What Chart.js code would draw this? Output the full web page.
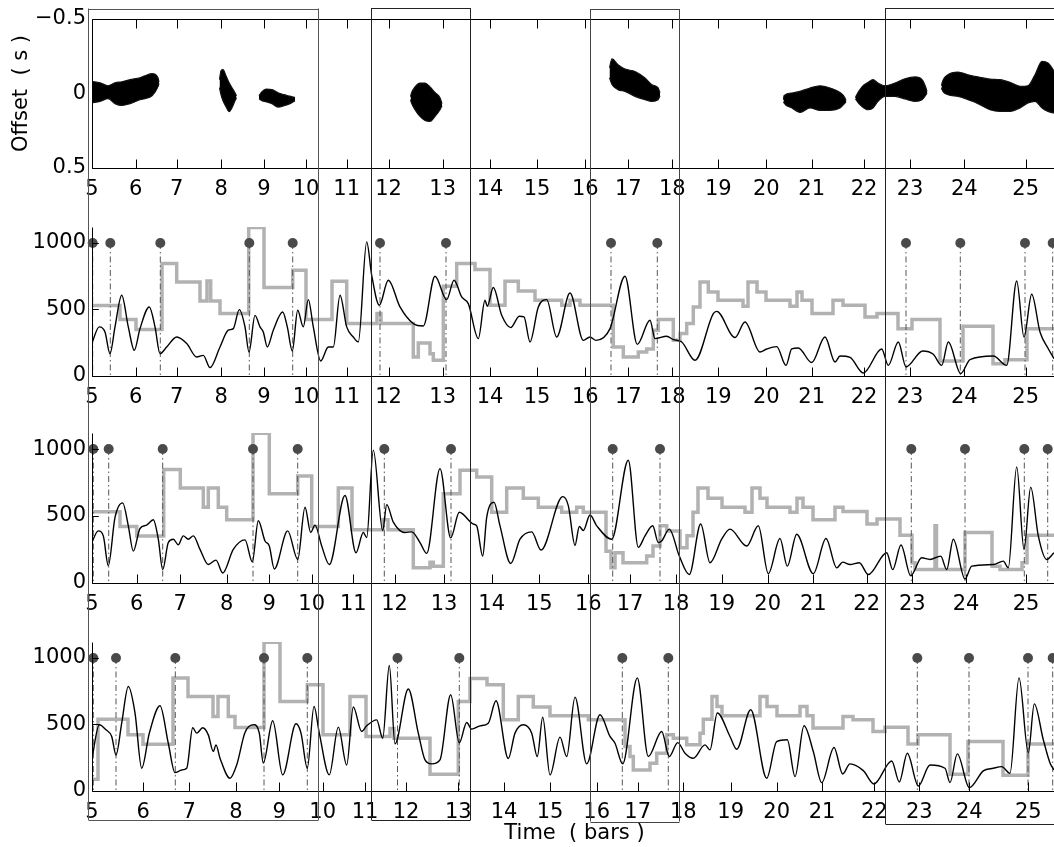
<!DOCTYPE html>
<html><head><meta charset="utf-8">
<script src="https://cdn.jsdelivr.net/npm/chart.js@4/dist/chart.umd.min.js"></script>
<style>
html,body{margin:0;padding:0;background:#fff;overflow:hidden;width:1054px;height:847px;position:relative}
canvas{position:absolute;left:0}
</style></head><body>
<canvas id="c1" width="1062" height="200" style="top:0px;width:1062px;height:200px"></canvas>
<canvas id="c2" width="1062" height="208" style="top:200px;width:1062px;height:208px"></canvas>
<canvas id="c3" width="1062" height="208" style="top:408px;width:1062px;height:208px"></canvas>
<canvas id="c4" width="1062" height="231" style="top:616px;width:1062px;height:231px"></canvas>
<script>
// ---------------- DATA ----------------
// x coordinate: performance time (s); bar numbers are warped per panel
const TIME_MIN = 9.2, TIME_MAX = 105.7;
const barLabels = ['5','6','7','8','9','10','11','12','13','14','15','16','17','18','19','20','21','22','23','24','25'];
const barTimesA = [9.2,13.57,17.67,22.13,26.40,30.60,34.67,38.85,44.27,49.00,53.70,58.53,62.83,67.23,71.83,76.63,81.17,86.40,91.00,96.43,102.57];
const barTimesB = [9.2,13.67,18.03,22.67,26.93,31.17,35.33,39.45,44.40,49.17,53.93,58.83,63.0,67.6,72.17,76.77,81.33,86.67,91.23,96.60,102.60];
const barTimesC = [9.2,14.33,18.93,23.60,27.93,32.27,36.50,40.60,45.83,50.40,55.00,59.67,63.77,68.33,73.07,77.67,82.20,87.43,91.93,96.93,102.83];

const offsetTicks = [-0.5, 0, 0.5];
const valueTicks = [0, 500, 1000];
const VALUE_MAX = 1120;
const ONSET_LEVEL = 1000;

// highlighted regions (time, s)
const regionStart = [8.77, 37.07, 59.0, 88.53];
const regionEnd   = [31.77, 47.0, 67.93, 110];

// top panel: offset blobs [time, upper offset, lower offset]
const blobA = [[9.2,-0.081,0.062],[10.0,-0.072,0.053],[10.8,-0.052,0.035],[11.5,-0.072,0.068],[12.2,-0.079,0.080],[13.0,-0.093,0.068],[14.0,-0.106,0.042],[14.5,-0.119,0.035],[15.2,-0.133,0.015],[15.8,-0.106,-0.046],[15.9,-0.076,-0.069]];
const blobB = [[21.95,-0.093,-0.039],[22.1,-0.153,0.008],[22.3,-0.160,0.049],[22.6,-0.119,0.088],[22.9,-0.073,0.122],[23.2,-0.039,0.095],[23.5,-0.005,0.048],[23.65,0.015,0.028]];
const blobC = [[25.9,0.015,0.035],[26.2,-0.012,0.048],[26.6,-0.030,0.055],[27.2,-0.026,0.068],[27.8,-0.005,0.091],[28.4,0.008,0.082],[29.0,0.018,0.068],[29.5,0.028,0.048]];
const blobD = [[41.05,0.021,0.042],[41.15,-0.003,0.064],[41.5,-0.044,0.109],[42.0,-0.070,0.154],[42.5,-0.070,0.181],[43.0,-0.044,0.187],[43.5,-0.007,0.154],[44.0,0.028,0.109],[44.2,0.068,0.082]];
const blobE = [[60.95,-0.173,-0.106],[61.2,-0.232,-0.060],[61.8,-0.193,-0.026],[62.5,-0.164,-0.014],[63.5,-0.148,0.019],[64.5,-0.104,0.042],[65.2,-0.059,0.053],[65.8,-0.039,0.042],[66.0,-0.005,0.015]];
const blobF = [[78.35,0.042,0.055],[78.4,0.015,0.064],[79.2,-0.003,0.097],[80.0,-0.014,0.127],[81.0,-0.037,0.097],[82.0,-0.052,0.113],[83.0,-0.037,0.113],[84.0,-0.007,0.097],[84.5,0.030,0.064],[84.6,0.048,0.055]];
const blobG = [[85.55,0.028,0.035],[85.6,0.019,0.042],[86.2,-0.044,0.087],[86.8,-0.074,0.109],[87.3,-0.093,0.097],[87.8,-0.070,0.053],[88.5,-0.052,0.019],[89.5,-0.070,0.019],[90.5,-0.099,0.037],[91.5,-0.111,0.053],[92.2,-0.093,0.042],[92.6,-0.037,0.008],[92.7,-0.012,-0.005]];
const blobH = [[94.15,-0.052,-0.039],[94.2,-0.070,-0.026],[94.8,-0.126,0.008],[95.8,-0.144,0.019],[96.8,-0.126,0.042],[97.8,-0.111,0.068],[99.0,-0.097,0.109],[100.0,-0.093,0.120],[101.0,-0.075,0.120],[102.0,-0.048,0.097],[102.8,-0.052,0.064],[103.5,-0.126,0.053],[104.2,-0.215,0.097],[104.8,-0.205,0.120],[105.8,-0.106,0.136]];
const blobs = [blobA, blobB, blobC, blobD, blobE, blobF, blobG, blobH];

// panel 2
const curve2 = [[9.17,244],[9.93,369],[10.5,331],[11.0,168],[11.5,369],[12.17,607],[12.83,369],[13.43,193],[14.0,356],[14.93,519],[15.5,369],[16.0,168],[16.67,218],[17.67,293],[18.67,244],[19.67,143],[20.33,155],[21.0,63],[22.0,218],[22.83,344],[23.33,356],[23.93,499],[24.5,369],[24.9,180],[25.5,456],[26.0,369],[26.33,331],[26.73,218],[27.33,344],[28.27,481],[28.73,369],[29.23,188],[29.77,494],[30.33,369],[30.83,574],[31.33,369],[32.07,113],[32.83,218],[33.33,218],[34.0,607],[34.67,369],[35.33,293],[35.83,256],[36.67,1008],[37.17,757],[37.93,532],[38.83,720],[40.0,519],[41.33,394],[42.33,376],[43.5,750],[44.67,574],[45.4,720],[46.17,594],[46.83,544],[47.83,281],[48.5,569],[48.73,524],[49.33,665],[50.17,456],[51.07,364],[51.93,449],[52.4,444],[53.0,256],[53.83,519],[54.67,574],[55.67,293],[57.0,624],[58.33,268],[59.0,293],[59.6,268],[61.0,356],[62.5,750],[63.73,238],[65.0,419],[65.5,281],[66.67,299],[67.33,273],[68.17,256],[69.5,118],[71.33,469],[71.67,486],[73.5,289],[74.5,406],[76.0,180],[76.67,203],[77.67,221],[78.6,80],[79.17,203],[79.83,211],[81.17,101],[82.5,293],[83.5,105],[84.0,150],[85.0,140],[86.33,23],[88.17,203],[88.83,80],[89.83,256],[90.6,68],[92.27,188],[93.33,163],[94.17,80],[94.83,256],[96.07,18],[97.0,123],[99.33,150],[100.67,80],[101.67,714],[102.4,293],[103.17,614],[104.0,331],[104.83,205],[105.4,130]];
const stepX2 = [9.2,12.0,13.6,16.2,17.67,20.0,20.7,21.07,22.0,24.87,26.4,29.27,30.6,33.2,34.67,37.7,38.1,41.33,41.83,43.0,43.33,44.33,45.67,47.5,49.0,50.5,51.83,53.5,56.17,57.0,58.0,61.33,62.33,63.83,64.67,65.33,65.83,67.33,68.0,68.67,69.33,70.0,70.83,71.8,74.3,74.8,75.7,76.6,79.0,79.7,80.2,81.2,83.3,84.3,86.5,87.7,89.8,91.2,94.0,96.3,99.3,100.5,102.7,105.8];
const stepY2 = [530,424,349,845,707,564,715,564,469,1116,665,795,424,712,394,470,394,143,248,168,118,675,845,800,532,712,639,569,532,569,532,218,143,180,203,344,424,268,319,394,519,707,632,569,524,707,632,569,524,632,569,469,569,532,444,469,356,424,113,374,93,123,356,356];
const onsets2 = [9.27,11.03,16.03,24.93,29.27,38.0,44.6,61.1,65.73,90.6,96.03,102.5,105.27];

// panel 3
const curve3 = [[9.17,302],[9.83,389],[10.33,352],[10.83,130],[11.5,490],[12.27,598],[12.83,427],[13.33,238],[14.0,407],[14.67,432],[15.33,472],[15.83,327],[16.27,100],[16.83,302],[17.33,327],[17.83,285],[18.33,352],[18.83,327],[19.33,352],[20.0,251],[20.83,138],[21.6,171],[22.27,75],[23.33,251],[24.5,322],[25.23,158],[25.83,465],[26.5,314],[26.93,276],[27.43,105],[28.77,389],[29.77,176],[30.5,566],[31.07,377],[31.5,432],[32.17,276],[32.93,138],[34.5,653],[35.6,226],[36.33,377],[36.67,339],[37.33,992],[38.27,392],[38.67,585],[39.33,455],[40.5,377],[41.17,382],[42.0,302],[42.67,221],[44.0,854],[45.07,337],[45.93,528],[47.33,440],[47.67,427],[48.27,201],[48.67,490],[49.4,603],[50.0,427],[51.07,146],[52.0,327],[53.17,382],[54.1,246],[56.27,645],[56.83,578],[57.5,281],[57.93,422],[58.33,392],[59.0,508],[59.67,427],[61.17,327],[62.83,917],[63.83,266],[64.5,352],[65.27,427],[65.83,302],[66.17,314],[66.93,402],[67.93,201],[68.93,63],[70.07,440],[71.0,151],[72.17,327],[73.0,402],[74.67,276],[75.83,427],[76.83,70],[78.0,332],[78.73,126],[79.67,364],[81.33,70],[82.6,332],[83.67,113],[84.27,156],[85.0,138],[85.93,151],[86.83,63],[88.67,226],[89.27,100],[90.1,284],[91.07,55],[92.17,188],[93.0,176],[94.07,201],[94.67,100],[95.33,327],[96.5,30],[97.17,126],[99.33,138],[100.33,163],[100.83,113],[101.67,867],[102.4,251],[103.07,716],[103.83,352],[104.67,176],[105.4,226]];
const stepX3 = [9.2,12.0,13.67,16.37,18.03,20.33,20.83,21.83,22.67,25.3,26.93,29.77,31.17,33.83,35.2,38.3,38.8,41.33,43.0,43.33,44.33,46.0,47.67,49.17,50.67,52.33,53.83,56.17,57.67,58.33,60.6,61.1,61.5,62.3,64.67,65.3,66.0,66.67,68.0,68.7,69.3,69.8,70.8,72.2,74.5,75.2,76.0,76.7,79.0,79.7,80.3,81.3,83.5,84.3,86.7,87.7,90.0,91.2,91.5,93.5,93.65,96.5,99.2,100.0,102.2,102.7,105.8];
const stepY3 = [532,422,351,847,709,566,709,566,472,1118,666,799,422,709,397,472,397,113,155,126,666,842,792,528,709,633,566,528,566,528,238,113,226,151,201,277,427,389,264,352,528,709,633,566,528,709,633,566,528,633,566,472,566,534,440,477,357,151,100,427,100,377,126,100,151,357,357];
const onsets3 = [9.33,10.87,16.27,25.3,29.77,38.43,45.1,61.27,66.0,91.13,96.5,102.43,104.77];

// panel 4
const curve4 = [[9.17,234],[9.93,498],[10.6,460],[11.17,410],[11.6,271],[12.17,510],[12.83,786],[13.5,588],[14.17,171],[14.93,434],[16.0,641],[16.83,359],[17.5,138],[18.17,158],[18.67,171],[19.27,475],[19.67,435],[20.27,475],[20.83,422],[21.33,297],[21.6,347],[22.0,247],[23.0,96],[23.67,196],[24.5,440],[25.4,498],[25.93,435],[26.33,211],[27.27,528],[28.27,121],[29.6,505],[30.1,435],[30.73,171],[31.4,636],[31.93,435],[32.93,121],[33.83,480],[34.67,196],[35.33,631],[36.17,447],[36.67,490],[37.67,535],[38.27,397],[38.93,943],[39.5,354],[40.83,767],[41.83,435],[42.5,234],[43.17,204],[44.0,234],[45.07,724],[45.93,362],[46.67,515],[47.17,465],[48.0,490],[48.83,510],[49.6,678],[50.83,244],[51.5,435],[52.33,498],[53.17,435],[53.73,259],[54.27,555],[55.0,121],[56.0,405],[56.67,259],[57.5,706],[58.67,204],[60.0,573],[61.0,410],[61.5,359],[62.27,204],[63.73,850],[64.83,259],[66.17,447],[66.93,259],[67.77,364],[68.5,284],[69.33,246],[70.5,347],[71.0,309],[71.73,586],[73.0,410],[73.67,314],[75.07,611],[76.67,96],[77.67,372],[78.73,385],[79.5,108],[80.4,490],[81.33,297],[82.17,63],[83.4,327],[84.27,128],[85.0,204],[86.33,153],[87.4,53],[89.17,226],[89.93,68],[90.73,284],[91.83,38],[93.0,196],[94.5,171],[95.0,63],[95.73,279],[96.93,25],[98.33,151],[99.33,171],[100.17,183],[101.0,133],[101.9,850],[102.83,289],[103.43,655],[104.33,385],[105.0,211],[105.4,158]];
const stepX4 = [9.2,9.8,12.8,14.3,17.3,18.8,21.3,21.8,22.83,23.5,26.4,28.0,30.73,32.3,35.0,36.6,39.0,39.4,43.0,45.83,47.0,48.7,50.33,51.83,53.33,55.0,58.83,62.5,63.0,63.33,65.0,65.67,66.67,67.33,68.67,70.0,70.33,71.2,71.7,72.2,76.0,76.7,77.7,80.0,80.7,81.3,84.3,85.3,87.3,88.5,90.8,91.8,95.0,96.8,100.3,102.8,105.8];
const stepY4 = [88,540,422,352,850,711,560,711,560,477,1118,673,799,422,711,410,470,397,126,673,845,799,535,711,631,566,535,334,259,158,209,284,422,397,347,435,540,711,636,566,711,636,566,636,566,473,560,535,447,480,354,422,126,372,119,354,354];
const onsets4 = [9.33,11.6,17.53,26.4,30.73,39.75,45.93,62.23,66.83,91.73,96.9,102.8,105.27];

// ---------------- STYLE / LAYOUT ----------------
const FONT = "'DejaVu Sans', Verdana, sans-serif";
Chart.defaults.font.family = FONT;
Chart.defaults.font.size = 21;
Chart.defaults.color = '#000';
const REGION_TOP = [8.5, 8, 9, 8];
const REGION_BOTTOM = [820, 820, 821.5, 824];
const REGION_COLOR = ['#555', '#222', '#444', '#222'];

const framePlugin = {
  id: 'frame',
  afterDraw(chart, args, o) {
    const {ctx, chartArea: a} = chart;
    const xs = chart.scales.x, ys = chart.scales.y;
    const L = Math.round(a.left) + 0.5, R = Math.round(a.right) + 0.5;
    const T = Math.round(a.top) + 0.5, B = Math.round(a.bottom) + 0.5;
    const tl = o.tickLen || 8;
    ctx.save();
    ctx.strokeStyle = '#000'; ctx.lineWidth = 1;
    ctx.beginPath();
    ctx.moveTo(L, T); ctx.lineTo(L, B); ctx.lineTo(R, B);
    if (o.box) { ctx.moveTo(L, T); ctx.lineTo(R, T); ctx.lineTo(R, B); }
    xs.ticks.forEach(t => {
      const px = Math.round(xs.getPixelForValue(t.value)) + 0.5;
      ctx.moveTo(px, B); ctx.lineTo(px, B - tl);
      if (o.box) { ctx.moveTo(px, T); ctx.lineTo(px, T + tl); }
    });
    ys.ticks.forEach(t => {
      const py = Math.round(ys.getPixelForValue(t.value)) + 0.5;
      ctx.moveTo(L, py); ctx.lineTo(L + tl * 0.7, py);
      if (o.box) { ctx.moveTo(R, py); ctx.lineTo(R - tl * 0.7, py); }
    });
    ctx.stroke();
    ctx.restore();
  }
};

const regionPlugin = {
  id: 'regions',
  afterDraw(chart, args, o) {
    const {ctx} = chart; const xs = chart.scales.x;
    const P = o.pageTop, H = chart.height;
    ctx.save(); ctx.lineWidth = 1;
    regionStart.forEach((s, i) => {
      const x0 = Math.round(xs.getPixelForValue(s)) + 0.5;
      const x1 = Math.round(xs.getPixelForValue(regionEnd[i])) + 0.5;
      const top = REGION_TOP[i], bot = REGION_BOTTOM[i];
      ctx.strokeStyle = REGION_COLOR[i];
      ctx.beginPath();
      const ya = Math.max(top, P) - P, yb = Math.min(bot, P + H) - P;
      if (ya < yb) { ctx.moveTo(x0, ya); ctx.lineTo(x0, yb); ctx.moveTo(x1, ya); ctx.lineTo(x1, yb); }
      if (top >= P && top < P + H) { const y = Math.round(top - P) + 0.5; ctx.moveTo(x0, y); ctx.lineTo(x1, y); }
      if (bot >= P && bot < P + H) { const y = Math.round(bot - P) + 0.5; ctx.moveTo(x0, y); ctx.lineTo(x1, y); }
      ctx.stroke();
    });
    ctx.restore();
  }
};

function xScale(barTimes, height, title) {
  return {
    type: 'linear', min: TIME_MIN, max: TIME_MAX,
    afterBuildTicks: s => { s.ticks = barTimes.map(v => ({value: v})); },
    afterFit: s => { s.height = height; },
    ticks: {autoSkip: false, maxRotation: 0, minRotation: 0, padding: 9, color: '#000',
      callback: (v, i) => barLabels[i]},
    grid: {display: false, drawTicks: false},
    border: {display: false},
    title: title ? {display: true, text: title, color: '#000', padding: {top: 0, bottom: 1}} : {display: false}
  };
}

function yScale(min, max, ticks, reverse, fmt, title) {
  return {
    type: 'linear', min, max, reverse,
    afterBuildTicks: s => { s.ticks = ticks.map(v => ({value: v})); },
    afterFit: s => { s.width = 92; },
    ticks: {padding: 6, color: '#000', callback: fmt},
    grid: {display: false, drawTicks: false},
    border: {display: false},
    title: title ? {display: true, text: title, color: '#000', padding: {top: 9, bottom: 0}} : {display: false}
  };
}

function makeChart(id, pageTop, padTop, xs, ys, datasets, box) {
  return new Chart(document.getElementById(id), {
    type: 'line',
    data: {datasets},
    options: {
      responsive: false, animation: false, devicePixelRatio: 1,
      layout: {padding: {top: padTop, right: 5, left: 0, bottom: 0}},
      scales: {x: xs, y: ys},
      plugins: {legend: {display: false}, tooltip: {enabled: false},
        frame: {box, tickLen: 9}, regions: {pageTop}},
      elements: {point: {radius: 0}}
    },
    plugins: [framePlugin, regionPlugin]
  });
}

// ---- panel 1 (offsets) ----
const blobSets = [];
blobs.forEach(b => {
  blobSets.push({data: b.map(p => ({x: p[0], y: p[1]})), borderColor: '#111', borderWidth: 1.2,
    pointRadius: 0, fill: false, cubicInterpolationMode: 'monotone'});
  blobSets.push({data: b.map(p => ({x: p[0], y: p[2]})), borderColor: '#111', borderWidth: 1.2,
    pointRadius: 0, fill: '-1', backgroundColor: '#000', cubicInterpolationMode: 'monotone'});
});
makeChart('c1', 0, 19, xScale(barTimesA, 32),
  yScale(-0.5, 0.5, offsetTicks, true, v => v < 0 ? '\u2212' + Math.abs(v) : String(v), 'Offset  ( s )'),
  blobSets, true);

// ---- panels 2-4 ----
function valueSets(curve, stepX, stepY, onsets) {
  const stems = [];
  onsets.forEach(t => { stems.push({x: t, y: ONSET_LEVEL}, {x: t, y: 0}, {x: t, y: null}); });
  return [
    {data: onsets.map(t => ({x: t, y: ONSET_LEVEL})), showLine: false, pointRadius: 5, pointHoverRadius: 5,
      pointBackgroundColor: '#4a4a4a', pointBorderWidth: 0, clip: false, order: 0},
    {data: curve.map(p => ({x: p[0], y: p[1]})), borderColor: '#000', borderWidth: 1.4, pointRadius: 0,
      cubicInterpolationMode: 'monotone', fill: false, order: 1},
    {data: stems, borderColor: '#555', borderWidth: 1, borderDash: [6, 3, 1.5, 3], pointRadius: 0,
      spanGaps: false, fill: false, order: 2},
    {data: stepX.map((t, i) => ({x: t, y: stepY[i]})), stepped: 'before', borderColor: '#b2b2b2',
      borderWidth: 3.5, pointRadius: 0, fill: false, order: 3}
  ];
}
const valFmt = v => String(v);
makeChart('c2', 200, 27, xScale(barTimesA, 32), yScale(0, VALUE_MAX, valueTicks, false, valFmt),
  valueSets(curve2, stepX2, stepY2, onsets2), false);
makeChart('c3', 408, 25, xScale(barTimesB, 33), yScale(0, VALUE_MAX, valueTicks, false, valFmt),
  valueSets(curve3, stepX3, stepY3, onsets3), false);
makeChart('c4', 616, 26, xScale(barTimesC, 56, 'Time  ( bars )'), yScale(0, VALUE_MAX, valueTicks, false, valFmt),
  valueSets(curve4, stepX4, stepY4, onsets4), false);
</script>
</body></html>
